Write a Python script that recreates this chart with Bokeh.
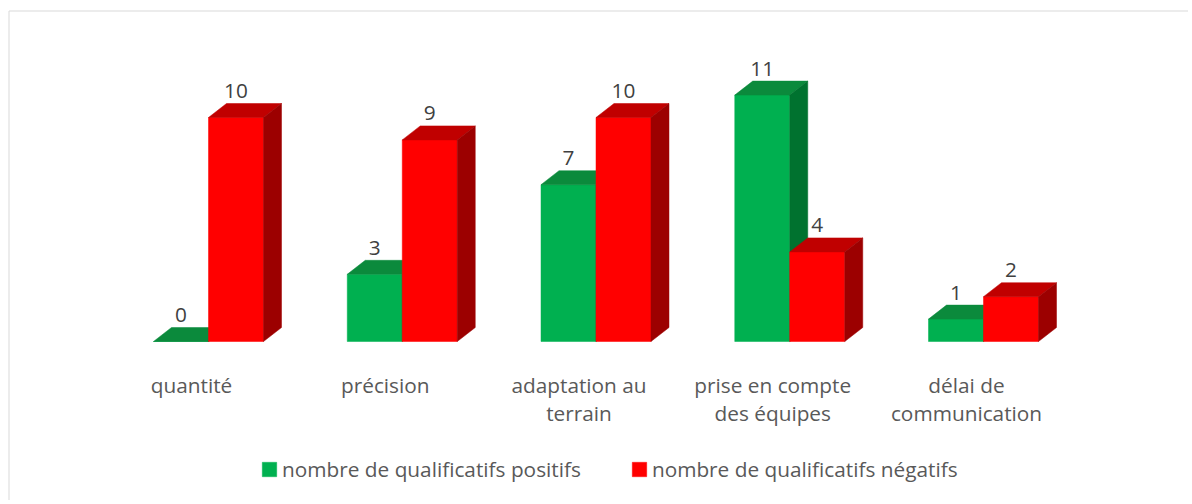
from bokeh.plotting import figure
from bokeh.models import Legend, LegendItem
from bokeh.core.properties import value
from bokeh.embed import file_html
from bokeh.resources import INLINE

# ---- data ----
categories = ["quantité", "précision", "adaptation au\nterrain",
              "prise en compte\ndes équipes", "délai de\ncommunication"]
positifs = [0, 3, 7, 11, 1]
negatifs = [10, 9, 10, 4, 2]
series_names = ["nombre de qualificatifs positifs", "nombre de qualificatifs négatifs"]

# ---- layout / style constants ----
W, H = 1188, 500
UNIT_PX = 22.4        # pixels per value unit
BASE_PX = 341         # baseline, px from canvas top
GROUP_PX = 193.75     # px per category
FIRST_PX = 208        # px of first category centre from left
BAR_W = 55 / GROUP_PX
DX = 18 / GROUP_PX    # 3D depth (x)
DY = 14 / UNIT_PX     # 3D depth (y)
FONT = "Open Sans"
FS = "20.8px"

x_start = -FIRST_PX / GROUP_PX
x_end = x_start + W / GROUP_PX
y_end = BASE_PX / UNIT_PX
y_start = -(H - BASE_PX) / UNIT_PX

p = figure(width=W, height=H, x_range=(x_start, x_end), y_range=(y_start, y_end),
           output_backend="svg", toolbar_location=None, min_border=0,
           x_axis_location=None, y_axis_location=None)
p.grid.visible = False
p.outline_line_color = None
p.background_fill_color = "white"
p.border_fill_color = "white"

# chart-area border (top and left edges visible)
bx = x_start + 8.5 / GROUP_PX
by = y_end - 10.5 / UNIT_PX
p.segment(x0=[bx, bx], y0=[y_start, by], x1=[bx, x_end], y1=[by, by],
          line_color="#d9d9d9", line_width=1)

colors = [
    dict(front="#00b050", top="#0b8a3c", side="#00722f"),
    dict(front="#ff0000", top="#c00000", side="#9c0000"),
]

fronts = []
for s, vals in enumerate([positifs, negatifs]):
    fx, fy, tx, ty, sx, sy = [], [], [], [], [], []
    for i, v in enumerate(vals):
        x0 = i - BAR_W if s == 0 else i
        x1 = x0 + BAR_W
        fx.append([x0, x1, x1, x0]); fy.append([0, 0, v, v])
        tx.append([x0, x1, x1 + DX, x0 + DX]); ty.append([v, v, v + DY, v + DY])
        sx.append([x1, x1 + DX, x1 + DX, x1]); sy.append([0, DY, v + DY, v])
    c = colors[s]
    fr = p.patches(fx, fy, fill_color=c["front"], line_color=c["front"], line_width=0.5)
    p.patches(tx, ty, fill_color=c["top"], line_color=c["top"], line_width=0.5)
    p.patches(sx, sy, fill_color=c["side"], line_color=c["side"], line_width=0.5)
    fronts.append(fr)
    # data labels
    lx = [(i - BAR_W / 2) if s == 0 else (i + BAR_W / 2) for i in range(len(vals))]
    ly = [v + DY + 0.56 for v in vals]
    p.text(x=lx, y=ly, text=[str(v) for v in vals], text_align="center",
           text_baseline="alphabetic", text_font=value(FONT),
           text_font_size=FS, text_color="#404040")

# category labels
p.text(x=[i - 17 / GROUP_PX for i in range(len(categories))],
       y=[-29 / UNIT_PX] * len(categories), text=categories,
       text_align="center", text_baseline="top", text_font=value(FONT),
       text_font_size=FS, text_color="#595959", text_line_height=1.0)

legend = Legend(items=[LegendItem(label=series_names[0], renderers=[fronts[0]]),
                       LegendItem(label=series_names[1], renderers=[fronts[1]])],
                orientation="horizontal", location=(260, 17),
                glyph_width=18, glyph_height=18, label_standoff=4, spacing=49,
                padding=0, margin=0, border_line_color=None,
                background_fill_alpha=0, label_text_font=FONT,
                label_text_font_size=FS, label_text_color="#595959")
p.add_layout(legend)

open("out.html", "w").write(file_html(p, INLINE))
